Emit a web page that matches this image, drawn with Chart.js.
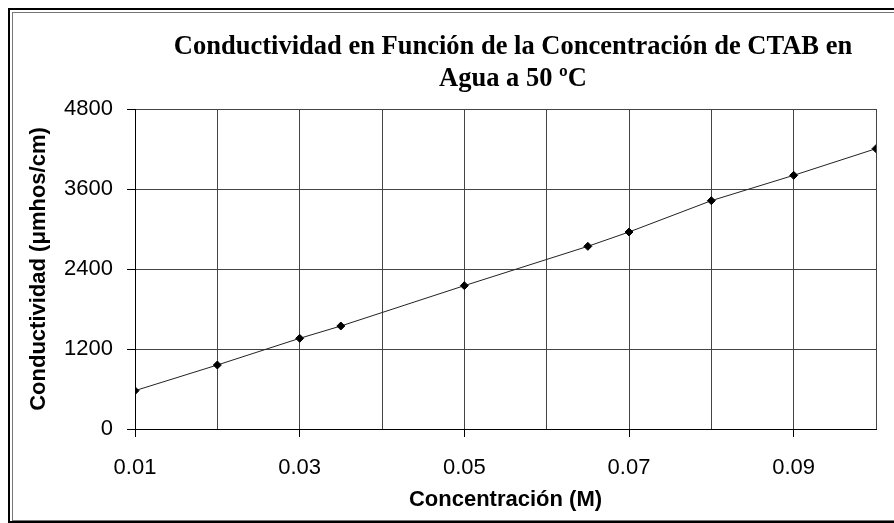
<!DOCTYPE html>
<html>
<head>
<meta charset="utf-8">
<script src="https://cdn.jsdelivr.net/npm/chart.js@4/dist/chart.umd.min.js"></script>
<style>
  html, body { margin: 0; padding: 0; background: #fff; }
  #wrap { width: 894px; height: 523px; position: relative; }
</style>
</head>
<body>
<div id="wrap"><canvas id="cond"></canvas></div>
<script>
// concentracion (M) vs conductividad (umhos/cm)
const concentracion = [0.01, 0.02, 0.03, 0.035, 0.05, 0.065, 0.07, 0.08, 0.09, 0.10];
const conductividad = [575, 960, 1360, 1545, 2150, 2740, 2955, 3425, 3805, 4205];
const xTickLabels = ['0.01', '0.03', '0.05', '0.07', '0.09'];
const yTicks = [0, 1200, 2400, 3600, 4800];
const titleLines = ['Conductividad en Función de la Concentración de CTAB en', 'Agua a 50 ºC'];

const round2 = (v) => (Math.round(v * 100) / 100).toFixed(2);

// marco exterior + titulo en serif, como en el original
const framePlugin = {
    id: 'frame',
    beforeDraw(chart) {
        const c = chart.ctx;
        c.save();
        c.fillStyle = '#fff';
        c.fillRect(0, 0, chart.width, chart.height);
        c.restore();
    },
    afterDraw(chart) {
        const c = chart.ctx;
        c.save();
        c.strokeStyle = '#000';
        c.lineWidth = 2;
        c.strokeRect(9, 9, chart.width + 10, chart.height - 10);
        c.strokeStyle = '#777';
        c.lineWidth = 1;
        c.strokeRect(12.5, 12.5, chart.width + 10, chart.height - 15);
        c.fillStyle = '#000';
        c.font = 'bold 26.5px "Liberation Serif", serif';
        c.textAlign = 'center';
        c.textBaseline = 'middle';
        c.fillText(titleLines[0], 513, 47);
        c.fillText(titleLines[1], 513, 79);
        c.restore();
    },
};

new Chart(document.getElementById('cond'), {
    type: 'scatter',
    data: {
        datasets: [{
            data: concentracion.map((x, i) => ({ x, y: conductividad[i] })),
            showLine: true,
            borderColor: '#222',
            borderWidth: 1,
            backgroundColor: '#000',
            pointBackgroundColor: '#000',
            pointBorderColor: '#000',
            pointStyle: 'rectRot',
            pointRadius: 4,
            tension: 0,
        }],
    },
    options: {
        responsive: true,
        maintainAspectRatio: false,
        animation: false,
        layout: { padding: { top: 109, right: 17, bottom: 0, left: 0 } },
        plugins: {
            legend: { display: false },
            tooltip: { enabled: false },
        },
        scales: {
            x: {
                type: 'linear',
                min: 0.01, max: 0.10,
                afterFit: (s) => { s.height = 94; },
                ticks: {
                    stepSize: 0.01,
                    autoSkip: false,
                    maxRotation: 0,
                    padding: 18,
                    color: '#000',
                    font: { family: '"Liberation Sans", Arial, sans-serif', size: 22 },
                    callback: (v) => xTickLabels.includes(round2(v)) ? round2(v) : '',
                },
                grid: {
                    color: '#444',
                    lineWidth: 1,
                    tickLength: 8,
                    tickColor: (c) => c.tick && c.tick.label ? '#000' : 'rgba(0,0,0,0)',
                },
                border: { color: '#000', width: 1 },
                title: {
                    display: true,
                    text: 'Concentración (M)',
                    color: '#000',
                    font: { family: '"Liberation Sans", Arial, sans-serif', size: 22, weight: 'bold' },
                    padding: { top: 0, bottom: 10 },
                },
            },
            y: {
                min: 0, max: 4800,
                afterFit: (s) => { s.width = 135; },
                afterBuildTicks: (s) => { s.ticks = yTicks.map(v => ({ value: v })); },
                ticks: {
                    padding: 14,
                    color: '#000',
                    font: { family: '"Liberation Sans", Arial, sans-serif', size: 22 },
                    callback: (v) => String(v),
                },
                grid: { color: '#444', lineWidth: 1, tickLength: 8, tickColor: '#000' },
                border: { color: '#000', width: 1 },
                title: {
                    display: true,
                    text: 'Conductividad (μmhos/cm)',
                    color: '#000',
                    font: { family: '"Liberation Sans", Arial, sans-serif', size: 22, weight: 'bold' },
                    padding: { top: 26, bottom: 0 },
                },
            },
        },
    },
    plugins: [framePlugin],
});
</script>
</body>
</html>
